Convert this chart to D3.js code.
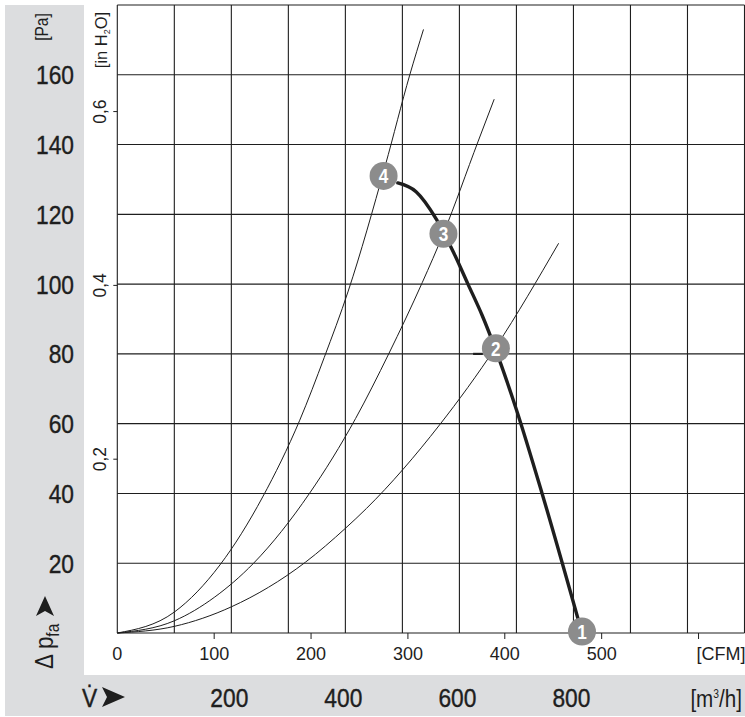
<!DOCTYPE html>
<html lang="en">
<head>
<meta charset="UTF-8">
<title>Fan curve</title>
<script src="https://d3js.org/d3.v7.min.js"></script>
<style>
  body { margin: 0; background: #fff; }
  svg { display: block; }
</style>
</head>
<body>
<div id="chart"></div>
<script>
// air flow in m3/h, pressure in Pa
let pa_ticks = [20, 40, 60, 80, 100, 120, 140, 160];
let m3h_labels = [200, 400, 600, 800];
let cfm_ticks = [0, 100, 200, 300, 400, 500, 600];
let inh2o_ticks = [0.2, 0.4, 0.6];

// fan characteristic (thick line)
let fan_flow = [492, 524, 560, 590, 615, 640, 664, 700, 745, 815];
let fan_pa = [129, 126.5, 118.5, 109, 100, 91, 81, 64, 40, 0];

// system curves (thin lines)
let sys_a_flow = [0, 100, 180, 255, 320, 363, 405, 470, 513, 537];
let sys_a_pa = [0, 6, 19.5, 39, 61, 79, 98, 134, 160, 173];
let sys_b_flow = [0, 100, 170, 239, 337, 418, 476, 535, 572, 633, 661];
let sys_b_pa = [0, 3.5, 10.2, 20, 40, 61.5, 80, 100.5, 114.5, 141, 153];
let sys_c_flow = [0, 100, 200, 330, 400, 437, 565, 664, 774];
let sys_c_pa = [0, 1.9, 7.5, 20.3, 30, 35.7, 59.6, 82, 111.7];

// operating points
let point_ids = ["1", "2", "3", "4"];
let point_flow = [815, 664, 572, 467];
let point_pa = [0.4, 81.6, 114.4, 131];

// short dash on the 80 Pa line next to point 2
let dash_flow = [624, 641];
let dash_pa = 80;

let width = 745, height = 717;
let font = "'Liberation Sans', Arial, Helvetica, sans-serif";
let squeeze = 'scale(0.86,1)';
let ink = "#1e1e1e";

let x = d3.scaleLinear().domain([0, 1100]).range([117.3, 744.5]);
let y = d3.scaleLinear().domain([0, 180]).range([633, 5]);
let x_cfm = d3.scaleLinear().domain([0, 1100 / 1.699]).range(x.range());
let y_in = d3.scaleLinear().domain([0, 180 / 249.09]).range(y.range());

let svg = d3.select('#chart').append('svg')
    .attr('width', width)
    .attr('height', height)
    .style('font-family', font);

// grey label panels
svg.append('path')
    .attr('d', 'M5,5 H84 V675 H745 V716 H5 Z')
    .style('fill', '#dcdddf');

// grid
let grid = svg.append('g');
grid.selectAll('.vgrid')
    .data(d3.range(0, 1101, 100))
    .enter()
    .append('line')
    .attr('x1', d => x(d)).attr('x2', d => x(d))
    .attr('y1', y(0)).attr('y2', y(180))
    .attr('stroke', ink).attr('stroke-width', 1.1);
grid.selectAll('.hgrid')
    .data(d3.range(0, 181, 20))
    .enter()
    .append('line')
    .attr('x1', x(0)).attr('x2', x(1100))
    .attr('y1', d => y(d)).attr('y2', d => y(d))
    .attr('stroke', ink).attr('stroke-width', 1.1);

svg.append('line')
    .attr('x1', x(dash_flow[0])).attr('x2', x(dash_flow[1]))
    .attr('y1', y(dash_pa)).attr('y2', y(dash_pa))
    .attr('stroke', ink).attr('stroke-width', 2.2);

// system curves
let line = d3.line()
    .x(d => x(d[0]))
    .y(d => y(d[1]))
    .curve(d3.curveMonotoneX);

[[sys_a_flow, sys_a_pa], [sys_b_flow, sys_b_pa], [sys_c_flow, sys_c_pa]].forEach(function (s) {
    svg.append('path')
        .datum(d3.zip(s[0], s[1]))
        .attr('d', line)
        .attr('fill', 'none')
        .attr('stroke', ink)
        .attr('stroke-width', 1);
});

// fan curve
svg.append('path')
    .datum(d3.zip(fan_flow, fan_pa))
    .attr('d', line)
    .attr('fill', 'none')
    .attr('stroke', ink)
    .attr('stroke-width', 3.4)
    .attr('stroke-linecap', 'round');

// operating point markers
let pts = svg.selectAll('.pt')
    .data(d3.zip(point_ids, point_flow, point_pa))
    .enter()
    .append('g')
    .attr('transform', d => 'translate(' + x(d[1]) + ',' + y(d[2]) + ')');
pts.append('circle')
    .attr('r', 14)
    .style('fill', '#8c8c8c');
pts.append('text')
    .text(d => d[0])
    .attr('transform', squeeze)
    .attr('text-anchor', 'middle')
    .attr('dy', '0.36em')
    .style('font-weight', 'bold')
    .style('font-size', '20px')
    .style('fill', '#fff');

// Pa labels
svg.selectAll('.pa')
    .data(pa_ticks)
    .enter()
    .append('text')
    .text(d => d)
    .attr('transform', d => 'translate(74,' + y(d) + ') ' + squeeze)
    .attr('dy', '0.36em')
    .attr('text-anchor', 'end')
    .style('font-size', '26.5px')
    .style('fill', ink)
    .style('stroke', ink)
    .style('stroke-width', 0.4);

svg.append('text')
    .text('[Pa]')
    .attr('transform', 'translate(48,27) rotate(-90) ' + squeeze)
    .attr('text-anchor', 'middle')
    .style('font-size', '18px')
    .style('fill', ink);

// delta p label with arrow
let dp = svg.append('text')
    .attr('transform', 'translate(53,669) rotate(-90) ' + squeeze)
    .style('font-size', '26px')
    .style('fill', ink);
dp.append('tspan').text('\u0394 p');
dp.append('tspan').text('fa').attr('dy', 6).style('font-size', '18px');
svg.append('path')
    .attr('d', 'M45,596 L54,616 L45,611 L36,616 Z')
    .style('fill', ink);

// inch H2O axis
let in_axis = svg.append('g');
in_axis.selectAll('.intick')
    .data(inh2o_ticks)
    .enter()
    .append('line')
    .attr('x1', x(0) - 4).attr('x2', x(0))
    .attr('y1', d => y_in(d)).attr('y2', d => y_in(d))
    .attr('stroke', ink);
in_axis.selectAll('.inlab')
    .data(inh2o_ticks)
    .enter()
    .append('text')
    .text(d => String(d).replace('.', ','))
    .attr('transform', d => 'translate(106,' + y_in(d) + ') rotate(-90)')
    .attr('text-anchor', 'middle')
    .style('font-size', '17.5px')
    .style('fill', ink);
let inlab = svg.append('text')
    .attr('transform', 'translate(107,40) rotate(-90)')
    .attr('text-anchor', 'middle')
    .style('font-size', '16.5px')
    .style('fill', ink);
inlab.append('tspan').text('[in H');
inlab.append('tspan').text('2').attr('dy', 3).style('font-size', '9px');
inlab.append('tspan').text('O]').attr('dy', -3);

// CFM axis
svg.selectAll('.cfmtick')
    .data(cfm_ticks.filter(d => d > 0))
    .enter()
    .append('line')
    .attr('x1', d => x_cfm(d)).attr('x2', d => x_cfm(d))
    .attr('y1', y(0)).attr('y2', y(0) + 6)
    .attr('stroke', ink);
svg.selectAll('.cfmlab')
    .data(cfm_ticks)
    .enter()
    .append('text')
    .text(d => d === 600 ? '[CFM]' : d)
    .attr('x', d => d === 600 ? x_cfm(d) - 2 : x_cfm(d))
    .attr('y', 660)
    .attr('text-anchor', d => d === 600 ? 'start' : 'middle')
    .style('font-size', '18px')
    .style('fill', ink);

// m3/h axis
svg.selectAll('.m3h')
    .data(m3h_labels)
    .enter()
    .append('text')
    .text(d => d)
    .attr('transform', d => 'translate(' + (x(d) - 2) + ',707) ' + squeeze)
    .attr('text-anchor', 'middle')
    .style('font-size', '26.5px')
    .style('fill', ink)
    .style('stroke', ink)
    .style('stroke-width', 0.4);
let unit = svg.append('text')
    .attr('transform', 'translate(742,707) ' + squeeze)
    .attr('text-anchor', 'end')
    .style('font-size', '24px')
    .style('fill', ink);
unit.append('tspan').text('[m');
unit.append('tspan').text('3').attr('dy', -9).style('font-size', '12px');
unit.append('tspan').text('/h]').attr('dy', 9);

svg.append('text')
    .text('V\u0307')
    .attr('transform', 'translate(82,707) ' + squeeze)
    .style('font-size', '26.5px')
    .style('fill', ink)
    .style('stroke', ink)
    .style('stroke-width', 0.4);
svg.append('path')
    .attr('d', 'M102,687 L125,697 L102,707 L107,697 Z')
    .style('fill', ink);
</script>
</body>
</html>
